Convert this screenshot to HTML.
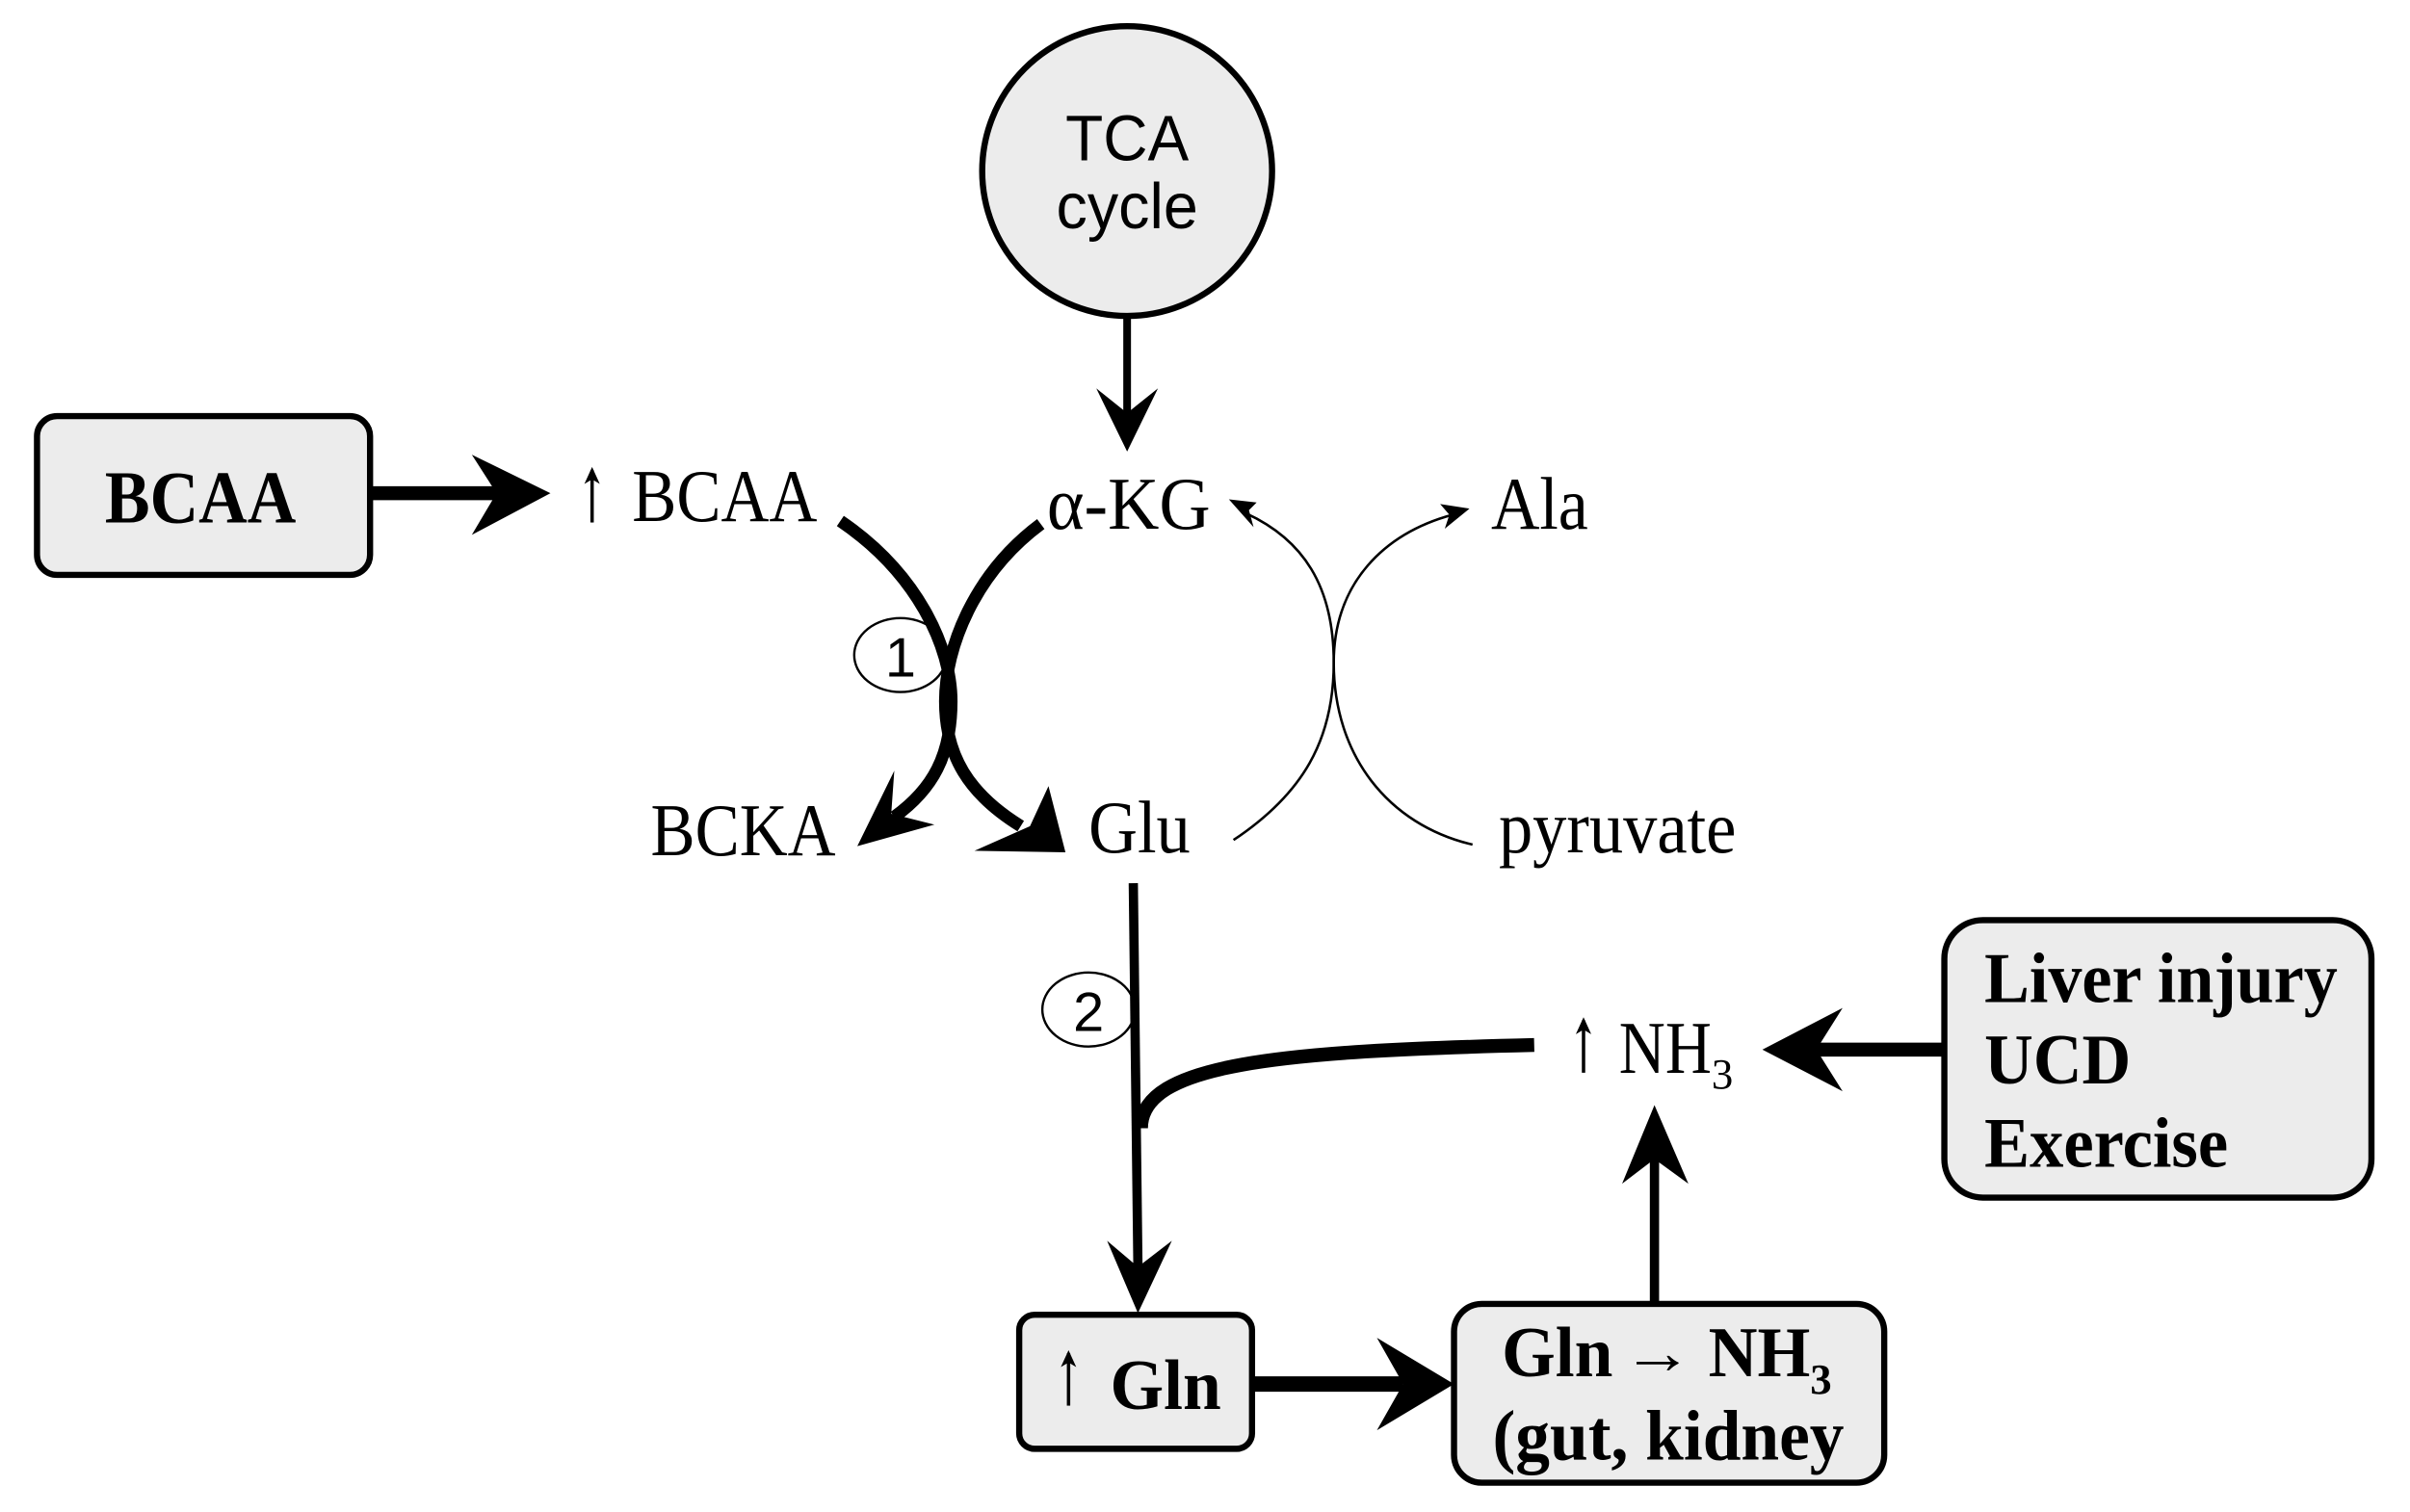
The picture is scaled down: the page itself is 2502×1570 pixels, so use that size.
<!DOCTYPE html>
<html><head><meta charset="utf-8"><style>
html,body{margin:0;padding:0;background:#fff;}
svg{display:block;}
text{font-family:"Liberation Serif",serif;fill:#000;}
.b{font-weight:bold;}
.s{font-family:"Liberation Sans",sans-serif;}
</style></head><body>
<svg width="2502" height="1570" viewBox="0 0 1563 981" preserveAspectRatio="none" xmlns="http://www.w3.org/2000/svg">
<defs>
<g id="up"><line x1="0" y1="2" x2="0" y2="36" stroke="#000" stroke-width="2.2"/><polygon points="0,0 -5,11 0,8 5,11" fill="#000"/></g>
</defs>
<!-- TCA cycle -->
<ellipse cx="731" cy="111" rx="94" ry="94" fill="#ececec" stroke="#000" stroke-width="4"/>
<text class="s" x="731" y="104" font-size="42" text-anchor="middle" textLength="80" lengthAdjust="spacingAndGlyphs">TCA</text>
<text class="s" x="731" y="148" font-size="42" text-anchor="middle" textLength="92" lengthAdjust="spacingAndGlyphs">cycle</text>
<line x1="731" y1="205" x2="731" y2="270" stroke="#000" stroke-width="5"/>
<polygon points="731,293 711,252 731,268 751,252" fill="#000"/>

<!-- BCAA box -->
<rect x="24" y="270" width="216" height="103" rx="13" fill="#ececec" stroke="#000" stroke-width="4"/>
<text class="b" x="130" y="339" font-size="48" text-anchor="middle" textLength="124" lengthAdjust="spacingAndGlyphs">BCAA</text>
<line x1="240" y1="320" x2="325" y2="320" stroke="#000" stroke-width="9"/>
<polygon points="357,320 306,295 322,320 306,347" fill="#000"/>
<use href="#up" x="384" y="303"/>
<text x="410" y="338" font-size="48" textLength="120" lengthAdjust="spacingAndGlyphs">BCAA</text>

<text x="679" y="343" font-size="48" textLength="106" lengthAdjust="spacingAndGlyphs">α-KG</text>
<text x="967" y="343" font-size="48" textLength="63" lengthAdjust="spacingAndGlyphs">Ala</text>
<text x="422" y="555" font-size="48" textLength="120" lengthAdjust="spacingAndGlyphs">BCKA</text>
<text x="706" y="553" font-size="48" textLength="66" lengthAdjust="spacingAndGlyphs">Glu</text>
<text x="972" y="553" font-size="48" textLength="154" lengthAdjust="spacingAndGlyphs">pyruvate</text>

<!-- circle 1 (under curves) -->
<ellipse cx="584" cy="425" rx="30" ry="24" fill="#fff" stroke="#000" stroke-width="1.5"/>
<text class="s" x="584" y="439" font-size="36" text-anchor="middle">1</text>
<!-- thick curves -->
<path d="M545,338 C595,372 617,420 617,455 C617,490 605,512 580,530" fill="none" stroke="#000" stroke-width="8"/>
<polygon points="556,549 580,500 578,528 606,535" fill="#000"/>
<path d="M675,340 C632,372 613,420 613,455 C613,490 628,515 662,536" fill="none" stroke="#000" stroke-width="8"/>
<polygon points="691,553 680,510 668,536 632,552" fill="#000"/>

<!-- thin arcs -->
<path d="M800,545 C845,515 865,480 865,430 C865,380 845,350 808,333" fill="none" stroke="#000" stroke-width="1.6"/>
<polygon points="797,324 815,326 810,331 813,342" fill="#000"/>
<path d="M955,548 C900,535 865,490 865,430 C865,378 898,346 942,334" fill="none" stroke="#000" stroke-width="1.6"/>
<polygon points="953,330 934,327 940,334 937,343" fill="#000"/>

<!-- Glu down -->
<ellipse cx="706" cy="655" rx="30" ry="24" fill="#fff" stroke="#000" stroke-width="1.5"/>
<text class="s" x="706" y="669" font-size="36" text-anchor="middle">2</text>
<line x1="735" y1="573" x2="738" y2="822" stroke="#000" stroke-width="6"/>
<polygon points="738,852 718,805 738,822 760,805" fill="#000"/>
<path d="M995,678 C830,682 740,690 740,732" fill="none" stroke="#000" stroke-width="9"/>

<!-- NH3 -->
<use href="#up" x="1027" y="660"/>
<text x="1050" y="696" font-size="48" textLength="60" lengthAdjust="spacingAndGlyphs">NH</text>
<text x="1110" y="706" font-size="28">3</text>
<line x1="1260" y1="681" x2="1175" y2="681" stroke="#000" stroke-width="9"/>
<polygon points="1143,681 1195,654 1178,681 1195,708" fill="#000"/>

<!-- Liver box -->
<rect x="1261" y="597" width="277" height="180" rx="25" fill="#ececec" stroke="#000" stroke-width="4"/>
<text class="b" x="1287" y="650" font-size="46" textLength="229" lengthAdjust="spacingAndGlyphs">Liver injury</text>
<text class="b" x="1287" y="703" font-size="46" textLength="95" lengthAdjust="spacingAndGlyphs">UCD</text>
<text class="b" x="1287" y="757" font-size="46" textLength="158" lengthAdjust="spacingAndGlyphs">Exercise</text>

<!-- Gln box -->
<rect x="661" y="853" width="151" height="87" rx="10" fill="#ececec" stroke="#000" stroke-width="4"/>
<use href="#up" x="693" y="876"/>
<text class="b" x="720" y="914" font-size="46" textLength="72" lengthAdjust="spacingAndGlyphs">Gln</text>
<line x1="812" y1="898" x2="910" y2="898" stroke="#000" stroke-width="10"/>
<polygon points="943,898 893,868 910,898 893,928" fill="#000"/>

<!-- Gln->NH3 box -->
<rect x="943" y="846" width="279" height="116" rx="18" fill="#ececec" stroke="#000" stroke-width="4"/>
<text class="b" x="974" y="893" font-size="46" textLength="72" lengthAdjust="spacingAndGlyphs">Gln</text>
<text class="b" x="1052" y="891" font-size="40" textLength="46" lengthAdjust="spacingAndGlyphs">→</text>
<text class="b" x="1108" y="893" font-size="46" textLength="66" lengthAdjust="spacingAndGlyphs">NH</text>
<text class="b" x="1174" y="904" font-size="28">3</text>
<text class="b" x="968" y="947" font-size="46" textLength="228" lengthAdjust="spacingAndGlyphs">(gut, kidney</text>
<line x1="1073" y1="846" x2="1073" y2="745" stroke="#000" stroke-width="6"/>
<polygon points="1073,717 1052,768 1073,752 1095,768" fill="#000"/>
</svg>
</body></html>
